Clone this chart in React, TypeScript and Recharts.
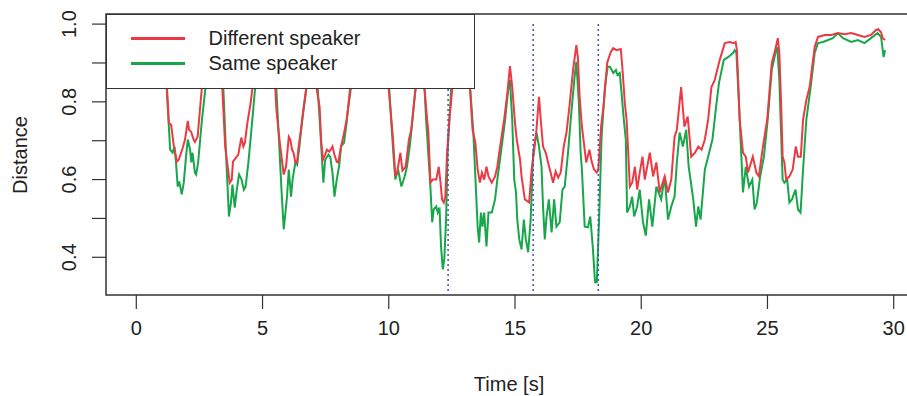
import { LineChart, Line, XAxis, YAxis, ReferenceLine, ReferenceArea, Legend } from 'recharts'

const FONT = '"Liberation Sans", Arial, Helvetica, sans-serif'
const TEXT_COLOR = '#222'
const RED = '#EC3A44'
const GREEN = '#17A74A'
const BLUE = '#4152B8'

const X_DOMAIN = [-1.2, 31.2]
const Y_DOMAIN = [0.303, 1.026]
const X_TICKS = [0, 5, 10, 15, 20, 25, 30]
const Y_TICKS = [0.4, 0.5, 0.6, 0.7, 0.8, 0.9, 1.0]
const SPEAKER_CHANGES = [12.35, 15.72, 18.3]
const LEGEND_ORDER = ['Different speaker', 'Same speaker']

// Different speaker (red)
const redTime = [
  1.0, 1.1, 1.22, 1.29, 1.38, 1.48, 1.61, 1.68, 1.84, 1.93, 2.04, 2.09, 2.17, 2.27, 2.32, 2.43, 2.52, 2.59,
  2.8, 3.15, 3.41, 3.52, 3.7, 3.78, 3.83, 3.94, 4.04, 4.16, 4.24, 4.3, 4.4, 4.53, 4.59, 4.84, 5.24, 5.51,
  5.55, 5.67, 5.84, 5.93, 6.04, 6.1, 6.17, 6.23, 6.3, 6.37, 6.43, 6.52, 6.6, 6.72, 6.89, 7.05, 7.15, 7.26,
  7.32, 7.39, 7.48, 7.55, 7.64, 7.7, 7.77, 7.85, 7.94, 8.0, 8.11, 8.2, 8.33, 8.49, 8.86, 9.45, 9.84, 10.0,
  10.08, 10.17, 10.26, 10.33, 10.46, 10.54, 10.67, 10.8, 10.89, 11.0, 11.06, 11.22, 11.34, 11.42, 11.52,
  11.57, 11.65, 11.74, 11.88, 11.98, 12.05, 12.11, 12.18, 12.24, 12.31, 12.4, 12.51, 12.72, 12.99, 13.22,
  13.32, 13.43, 13.52, 13.61, 13.69, 13.78, 13.87, 13.95, 14.08, 14.21, 14.3, 14.41, 14.57, 14.7, 14.8,
  14.89, 15.0, 15.07, 15.2, 15.26, 15.39, 15.56, 15.66, 15.75, 15.85, 15.95, 16.02, 16.11, 16.22, 16.31,
  16.41, 16.51, 16.61, 16.71, 16.81, 16.93, 17.04, 17.17, 17.3, 17.43, 17.49, 17.56, 17.65, 17.76, 17.82,
  17.95, 18.02, 18.13, 18.24, 18.3, 18.41, 18.52, 18.65, 18.79, 18.89, 19.02, 19.19, 19.26, 19.35, 19.42,
  19.46, 19.55, 19.64, 19.75, 19.84, 19.94, 20.05, 20.14, 20.34, 20.47, 20.6, 20.73, 20.93, 21.06, 21.19,
  21.32, 21.41, 21.58, 21.71, 21.84, 21.98, 22.13, 22.26, 22.39, 22.52, 22.65, 22.78, 22.91, 23.11, 23.31,
  23.51, 23.66, 23.74, 23.79, 23.9, 24.03, 24.14, 24.23, 24.42, 24.56, 24.66, 24.82, 24.99, 25.17, 25.28,
  25.41, 25.47, 25.54, 25.6, 25.67, 25.74, 25.87, 26.0, 26.12, 26.21, 26.32, 26.41, 26.54, 26.67, 26.87,
  27.0, 27.27, 27.53, 27.79, 28.05, 28.32, 28.58, 28.84, 29.1, 29.3, 29.39, 29.5, 29.56, 29.66,
]
const redDist = [
  0.9, 0.908, 0.831, 0.746, 0.741, 0.69, 0.646, 0.651, 0.682, 0.703, 0.751, 0.728, 0.723, 0.703, 0.697, 0.71, 0.779, 0.831,
  0.933, 0.959, 0.831, 0.685, 0.592, 0.6, 0.646, 0.656, 0.664, 0.708, 0.685, 0.695, 0.746, 0.797, 0.831, 0.933, 0.946, 0.831,
  0.779, 0.703, 0.613, 0.633, 0.71, 0.703, 0.677, 0.669, 0.644, 0.644, 0.685, 0.728, 0.772, 0.831, 0.933, 0.921, 0.831, 0.787,
  0.703, 0.651, 0.664, 0.677, 0.672, 0.677, 0.685, 0.664, 0.646, 0.644, 0.685, 0.71, 0.754, 0.831, 0.933, 0.946, 0.921, 0.831,
  0.772, 0.703, 0.608, 0.618, 0.669, 0.623, 0.633, 0.703, 0.728, 0.797, 0.831, 0.908, 0.856, 0.831, 0.754,
  0.721, 0.592, 0.6, 0.6, 0.633, 0.592, 0.549, 0.541, 0.556, 0.669, 0.754, 0.831, 0.933, 0.921, 0.831,
  0.728, 0.695, 0.626, 0.592, 0.618, 0.6, 0.633, 0.608, 0.592, 0.608, 0.633, 0.685, 0.754, 0.823, 0.892,
  0.838, 0.746, 0.703, 0.651, 0.608, 0.549, 0.541, 0.626, 0.669, 0.728, 0.813, 0.754, 0.685, 0.669, 0.644,
  0.618, 0.592, 0.621, 0.605, 0.618, 0.685, 0.721, 0.797, 0.882, 0.946, 0.915, 0.813, 0.736, 0.677, 0.644,
  0.677, 0.651, 0.626, 0.618, 0.626, 0.736, 0.797, 0.9, 0.928, 0.938, 0.933, 0.936, 0.882, 0.797, 0.754,
  0.703, 0.582, 0.592, 0.633, 0.574, 0.618, 0.659, 0.6, 0.669, 0.608, 0.644, 0.567, 0.608, 0.567, 0.6,
  0.71, 0.728, 0.838, 0.736, 0.762, 0.659, 0.669, 0.685, 0.677, 0.703, 0.754, 0.838, 0.856, 0.908, 0.951,
  0.954, 0.951, 0.954, 0.933, 0.754, 0.669, 0.659, 0.618, 0.659, 0.618, 0.608, 0.685, 0.754, 0.9, 0.926,
  0.964, 0.926, 0.797, 0.659, 0.644, 0.6, 0.608, 0.626, 0.685, 0.659, 0.659, 0.754, 0.805, 0.838, 0.941,
  0.967, 0.972, 0.972, 0.977, 0.974, 0.977, 0.972, 0.967, 0.972, 0.985, 0.987, 0.979, 0.964, 0.959,
]

// Same speaker (green)
const greenTime = [
  1.0, 1.14, 1.29, 1.34, 1.44, 1.51, 1.57, 1.64, 1.7, 1.8, 1.88, 1.97, 2.04, 2.13, 2.18, 2.23, 2.32, 2.37,
  2.45, 2.53, 2.6, 2.73, 2.95, 3.19, 3.45, 3.57, 3.67, 3.75, 3.81, 3.9, 3.98, 4.07, 4.17, 4.26, 4.33, 4.44,
  4.56, 4.7, 4.92, 5.31, 5.55, 5.63, 5.75, 5.84, 5.97, 6.04, 6.13, 6.19, 6.3, 6.37, 6.46, 6.56, 6.73, 6.89,
  7.09, 7.19, 7.31, 7.41, 7.48, 7.61, 7.68, 7.77, 7.85, 7.94, 8.04, 8.11, 8.23, 8.33, 8.46, 8.86, 9.45, 9.84,
  10.02, 10.12, 10.2, 10.26, 10.37, 10.5, 10.63, 10.72, 10.83, 10.94, 11.05, 11.22, 11.38, 11.48, 11.64,
  11.72, 11.78, 11.88, 11.94, 12.01, 12.07, 12.14, 12.2, 12.27, 12.33, 12.47, 12.72, 12.99, 13.23, 13.35,
  13.52, 13.58, 13.65, 13.71, 13.78, 13.87, 13.95, 14.08, 14.21, 14.3, 14.44, 14.61, 14.74, 14.8, 14.89,
  14.97, 15.04, 15.09, 15.17, 15.26, 15.35, 15.43, 15.52, 15.62, 15.72, 15.85, 15.95, 16.05, 16.11, 16.18,
  16.25, 16.34, 16.45, 16.55, 16.64, 16.77, 16.88, 16.97, 17.1, 17.23, 17.36, 17.43, 17.53, 17.6, 17.65,
  17.76, 17.89, 17.98, 18.08, 18.17, 18.24, 18.33, 18.43, 18.56, 18.67, 18.76, 18.89, 19.0, 19.06, 19.15,
  19.22, 19.31, 19.39, 19.44, 19.55, 19.64, 19.72, 19.84, 19.94, 20.07, 20.18, 20.31, 20.44, 20.6, 20.79,
  20.93, 21.06, 21.19, 21.32, 21.41, 21.52, 21.65, 21.78, 21.88, 22.06, 22.17, 22.26, 22.35, 22.52, 22.69,
  22.82, 22.95, 23.08, 23.27, 23.44, 23.64, 23.7, 23.77, 23.87, 24.03, 24.14, 24.27, 24.4, 24.49, 24.58,
  24.71, 24.86, 25.01, 25.17, 25.34, 25.39, 25.47, 25.6, 25.67, 25.78, 25.87, 25.97, 26.11, 26.21, 26.31,
  26.41, 26.54, 26.71, 26.87, 27.0, 27.2, 27.4, 27.59, 27.79, 27.99, 28.32, 28.58, 28.84, 29.1, 29.36,
  29.5, 29.6, 29.66,
]
const greenDist = [
  0.882, 0.908, 0.736, 0.677, 0.669, 0.685, 0.646, 0.582, 0.595, 0.562, 0.592, 0.659, 0.703, 0.677, 0.644, 0.669, 0.618, 0.613,
  0.644, 0.703, 0.754, 0.831, 0.921, 0.933, 0.831, 0.644, 0.505, 0.541, 0.587, 0.528, 0.574, 0.613, 0.6, 0.574, 0.582, 0.644,
  0.728, 0.831, 0.921, 0.933, 0.831, 0.728, 0.574, 0.472, 0.556, 0.626, 0.556, 0.6, 0.644, 0.638, 0.685, 0.746, 0.831, 0.921,
  0.908, 0.831, 0.703, 0.592, 0.651, 0.664, 0.659, 0.618, 0.556, 0.6, 0.638, 0.685, 0.695, 0.746, 0.831, 0.921, 0.933, 0.908,
  0.831, 0.728, 0.651, 0.6, 0.626, 0.582, 0.608, 0.633, 0.685, 0.754, 0.831, 0.895, 0.882, 0.754, 0.592,
  0.49, 0.523, 0.531, 0.515, 0.528, 0.428, 0.369, 0.395, 0.497, 0.669, 0.831, 0.921, 0.908, 0.831, 0.721,
  0.479, 0.438, 0.515, 0.479, 0.515, 0.428, 0.515, 0.515, 0.549, 0.6, 0.669, 0.754, 0.838, 0.856, 0.754,
  0.6, 0.567, 0.497, 0.446, 0.42, 0.497, 0.446, 0.413, 0.497, 0.669, 0.721, 0.685, 0.633, 0.531, 0.446,
  0.505, 0.549, 0.464, 0.549, 0.479, 0.49, 0.574, 0.582, 0.669, 0.772, 0.864, 0.903, 0.797, 0.669, 0.626,
  0.479, 0.477, 0.505, 0.428, 0.336, 0.336, 0.497, 0.71, 0.838, 0.89, 0.89, 0.874, 0.882, 0.869, 0.874,
  0.823, 0.754, 0.703, 0.515, 0.531, 0.556, 0.505, 0.531, 0.574, 0.49, 0.456, 0.549, 0.479, 0.582, 0.549,
  0.608, 0.497, 0.531, 0.556, 0.644, 0.721, 0.685, 0.728, 0.633, 0.549, 0.479, 0.531, 0.497, 0.626, 0.669,
  0.703, 0.779, 0.849, 0.908, 0.915, 0.926, 0.933, 0.926, 0.797, 0.567, 0.633, 0.582, 0.6, 0.523, 0.541,
  0.608, 0.659, 0.754, 0.882, 0.933, 0.941, 0.856, 0.6, 0.592, 0.6, 0.541, 0.549, 0.574, 0.523, 0.515,
  0.626, 0.754, 0.838, 0.926, 0.951, 0.954, 0.959, 0.964, 0.977, 0.964, 0.954, 0.959, 0.951, 0.964, 0.977,
  0.967, 0.915, 0.933,
]

const redData = redTime.map((t, i) => ({ t, d: redDist[i] }))
const greenData = greenTime.map((t, i) => ({ t, d: greenDist[i] }))

/** R-style y tick: every 0.1 gets a tick mark, only every other one a (rotated) label. */
function YTick({ x, y, payload }: any) {
  const v = payload.value as number
  if (Math.round(v * 10) % 2 !== 0) return null
  const bx = x - 14
  return (
    <text x={bx} y={y} transform={`rotate(-90 ${bx} ${y})`} textAnchor="middle" fontSize={20} fill={TEXT_COLOR}>
      {v.toFixed(1)}
    </text>
  )
}

function LegendBox({ payload }: any) {
  const items = [...(payload ?? [])].sort(
    (a: any, b: any) => LEGEND_ORDER.indexOf(a.value) - LEGEND_ORDER.indexOf(b.value),
  )
  return (
    <div
      style={{
        width: 369,
        height: 75,
        boxSizing: 'border-box',
        border: '1.5px solid #333',
        background: '#fff',
        paddingTop: 11,
      }}
    >
      {items.map((item: any) => (
        <div key={item.value} style={{ display: 'flex', alignItems: 'center', height: 25 }}>
          <span style={{ display: 'inline-block', marginLeft: 23.5, width: 54, height: 2.5, background: item.color }} />
          <span style={{ marginLeft: 24, fontSize: 20, lineHeight: '25px', color: TEXT_COLOR }}>{item.value}</span>
        </div>
      ))}
    </div>
  )
}

export default function App() {
  return (
    <div
      style={{
        position: 'fixed',
        left: 0,
        top: 0,
        width: 907,
        height: 396,
        overflow: 'hidden',
        background: '#fff',
        fontFamily: FONT,
      }}
    >
      <LineChart width={940} height={396} margin={{ top: 14, right: 16, bottom: 0, left: 0 }}>
        <XAxis
          dataKey="t"
          type="number"
          domain={X_DOMAIN}
          ticks={X_TICKS}
          allowDataOverflow
          axisLine={false}
          tickLine={{ stroke: '#333', strokeWidth: 1.2 }}
          tickSize={14}
          tickMargin={12}
          height={101}
          tick={{ fontSize: 20, fill: TEXT_COLOR }}
          label={{
            content: () => (
              <text x={509} y={391} textAnchor="middle" fontSize={20} fill={TEXT_COLOR}>
                Time [s]
              </text>
            ),
          }}
        />
        <YAxis
          dataKey="d"
          type="number"
          domain={Y_DOMAIN}
          ticks={Y_TICKS}
          allowDataOverflow
          axisLine={false}
          tickLine={{ stroke: '#333', strokeWidth: 1.2 }}
          tickSize={14}
          width={106}
          tick={<YTick />}
          label={{
            content: () => (
              <text x={27} y={155} transform="rotate(-90 27 155)" textAnchor="middle" fontSize={20} fill={TEXT_COLOR}>
                Distance
              </text>
            ),
          }}
        />
        <ReferenceArea
          x1={X_DOMAIN[0]}
          x2={X_DOMAIN[1]}
          y1={Y_DOMAIN[0]}
          y2={Y_DOMAIN[1]}
          fill="none"
          stroke="#333"
          strokeWidth={1.5}
          ifOverflow="visible"
        />
        <Line
          data={greenData}
          dataKey="d"
          name="Same speaker"
          type="linear"
          stroke={GREEN}
          strokeWidth={2}
          dot={false}
          isAnimationActive={false}
        />
        <Line
          data={redData}
          dataKey="d"
          name="Different speaker"
          type="linear"
          stroke={RED}
          strokeWidth={2}
          dot={false}
          isAnimationActive={false}
        />
        {SPEAKER_CHANGES.map((t) => (
          <ReferenceLine
            key={t}
            segment={[
              { x: t, y: 1.0 },
              { x: t, y: Y_DOMAIN[0] },
            ]}
            stroke={BLUE}
            strokeWidth={1.5}
            strokeDasharray="2 3"
          />
        ))}
        <Legend
          layout="vertical"
          align="center"
          verticalAlign="middle"
          content={<LegendBox />}
          wrapperStyle={{ left: 106, top: 14, width: 369, height: 75 }}
        />
      </LineChart>
    </div>
  )
}
